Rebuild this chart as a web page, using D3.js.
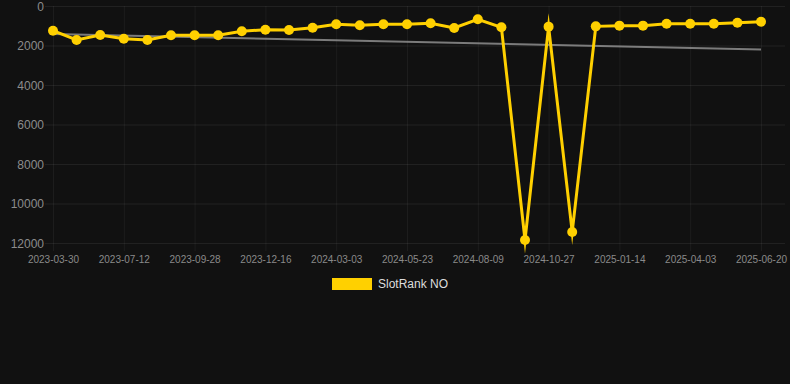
<!DOCTYPE html>
<html>
<head>
<meta charset="utf-8">
<script src="https://cdn.jsdelivr.net/npm/d3@7"></script>
<style>
  html, body { margin: 0; padding: 0; background: #111111; }
  svg { display: block; }
  text { font-family: "Liberation Sans", Arial, Helvetica, sans-serif; }
</style>
</head>
<body>
<svg id="chart" width="790" height="384"></svg>
<script>
const categories = [
  "2023-03-30","2023-05-03","2023-06-07","2023-07-12","2023-08-07","2023-09-02",
  "2023-09-28","2023-10-25","2023-11-20","2023-12-16","2024-01-12","2024-02-07",
  "2024-03-03","2024-03-27","2024-04-29","2024-05-23","2024-06-18","2024-07-14",
  "2024-08-09","2024-09-04","2024-10-01","2024-10-27","2024-11-22","2024-12-19",
  "2025-01-14","2025-02-08","2025-03-08","2025-04-03","2025-04-29","2025-05-25",
  "2025-06-20"
];
const rankValues = [
  1250, 1720, 1470, 1655, 1720, 1485,
  1485, 1485, 1280, 1200, 1215, 1100,
  925, 975, 925, 925, 875, 1115,
  675, 1080, 11850, 1045, 11440, 1030,
  995, 995, 895, 895, 895, 845,
  795
];
const yTicks = [0, 2000, 4000, 6000, 8000, 10000, 12000];
const seriesName = "SlotRank NO";

const W = 790, H = 384;
const pL = 53, pR = 761, pT = 6, pB = 243, gridR = 785;
const yellow = "#FFD000";

const svg = d3.select("#chart");
svg.append("rect").attr("width", W).attr("height", H).attr("fill", "#111111");

const x = d3.scalePoint().domain(d3.range(categories.length)).range([pL, pR]);
const y = d3.scaleLinear().domain([0, 12000]).range([pT, pB]);

// horizontal grid + y axis labels
const yAxis = d3.axisLeft(y).tickValues(yTicks).tickFormat(d3.format("d")).tickSize(0).tickPadding(0);
const gy = svg.append("g").attr("transform", `translate(${pL - 8},0)`).call(yAxis);
gy.select(".domain").remove();
gy.selectAll(".tick line")
  .attr("x1", 0).attr("x2", gridR - pL + 8)
  .attr("stroke", "rgba(255,255,255,0.07)").attr("stroke-width", 1);
gy.selectAll(".tick text")
  .attr("x", -1).attr("dy", "0.35em")
  .attr("fill", "#8c8c8c").attr("font-size", 12)
  .style("font-family", "'Liberation Sans', Arial, sans-serif");

// vertical grid + x labels (every third category shown)
const shown = d3.range(categories.length).filter(i => i % 3 === 0);
const xAxis = d3.axisBottom(x).tickValues(shown).tickFormat(i => categories[i]).tickSize(0);
const gx = svg.append("g").attr("transform", `translate(0,${pB})`).call(xAxis);
gx.select(".domain").remove();
gx.selectAll(".tick line")
  .attr("y1", -(pB - pT)).attr("y2", 8)
  .attr("stroke", "rgba(255,255,255,0.05)").attr("stroke-width", 1);
gx.selectAll(".tick text")
  .attr("y", 20).attr("dy", 0)
  .attr("fill", "#8a8a8a").attr("font-size", 10)
  .style("font-family", "'Liberation Sans', Arial, sans-serif");

// trend line (least squares over the series)
const n = rankValues.length;
const mx = d3.mean(d3.range(n));
const my = d3.mean(rankValues);
let sxy = 0, sxx = 0;
rankValues.forEach((v, i) => { sxy += (i - mx) * (v - my); sxx += (i - mx) * (i - mx); });
const slope = sxy / sxx, icpt = my - slope * mx;
const trend = [0, n - 1].map(i => ({ i, v: icpt + slope * i }));
svg.append("path")
  .datum(trend)
  .attr("d", d3.line().x(d => x(d.i)).y(d => y(d.v)))
  .attr("fill", "none")
  .attr("stroke", "rgba(150,150,150,0.8)")
  .attr("stroke-width", 2);

// main series
svg.append("path")
  .datum(rankValues)
  .attr("d", d3.line().x((d, i) => x(i)).y(d => y(d)))
  .attr("fill", "none")
  .attr("stroke", yellow)
  .attr("stroke-width", 3)
  .attr("stroke-linejoin", "miter")
  .attr("stroke-miterlimit", 10);

svg.append("g").selectAll("circle")
  .data(rankValues)
  .join("circle")
  .attr("cx", (d, i) => x(i))
  .attr("cy", d => y(d))
  .attr("r", 5)
  .attr("fill", yellow);

// legend
const lg = svg.append("g");
lg.append("rect").attr("x", 332).attr("y", 278).attr("width", 40).attr("height", 12).attr("fill", yellow);
lg.append("text").attr("x", 378).attr("y", 284).attr("dy", "0.35em")
  .attr("fill", "#dddddd").attr("font-size", 12).text(seriesName);
</script>
</body>
</html>
